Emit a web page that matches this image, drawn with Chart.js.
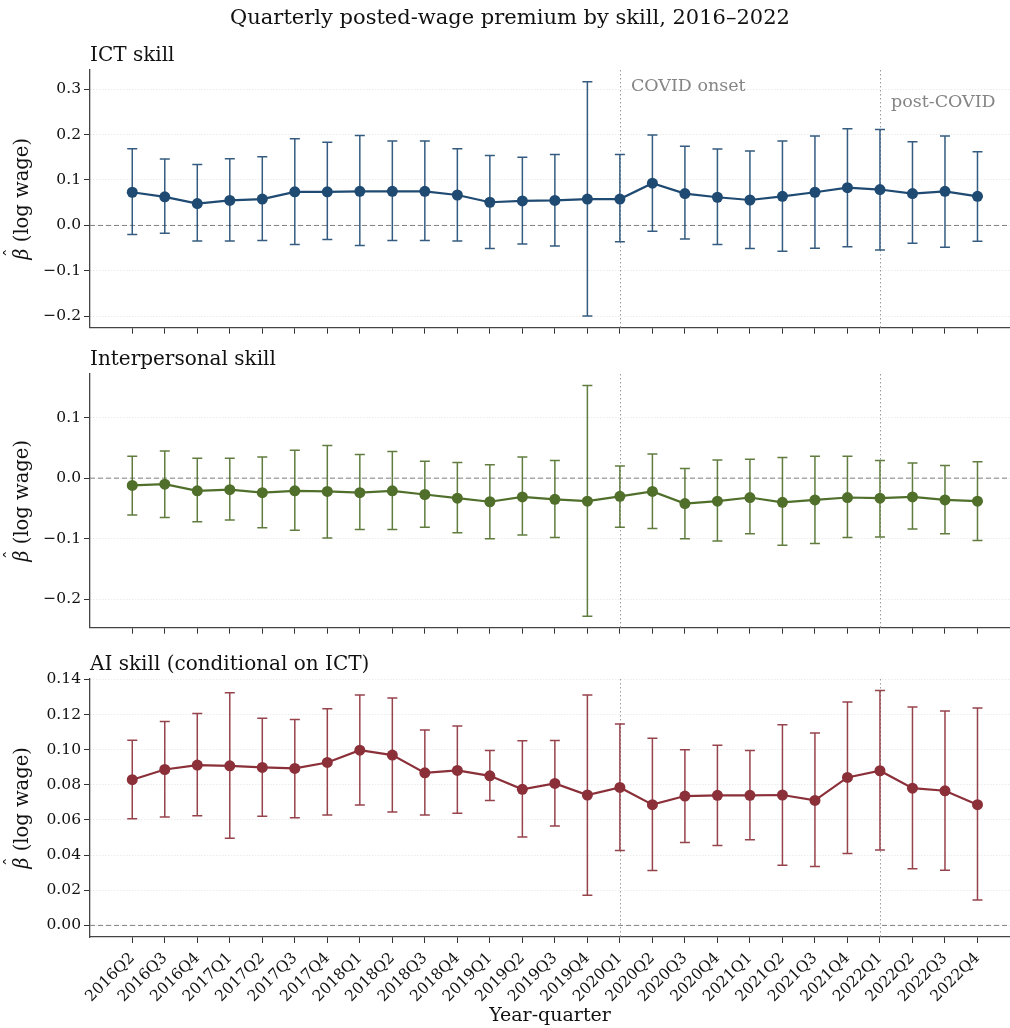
<!DOCTYPE html>
<html>
<head>
<meta charset="utf-8">
<script src="https://cdn.jsdelivr.net/npm/chart.js@4.4.1/dist/chart.umd.min.js"></script>
<style>
  html, body { margin: 0; padding: 0; background: #fff; }
  #wrap { position: relative; width: 1010px; height: 1028px; overflow: hidden; background: #fff; }
  canvas { position: absolute; left: 0; }
</style>
</head>
<body>
<div id="wrap">
  <canvas id="ictChart" width="1010" height="340" style="top:0px"></canvas>
  <canvas id="interChart" width="1010" height="300" style="top:340px"></canvas>
  <canvas id="aiChart" width="1010" height="388" style="top:640px"></canvas>
</div>
<script>
const quarters = ['2016Q2', '2016Q3', '2016Q4', '2017Q1', '2017Q2', '2017Q3', '2017Q4',
  '2018Q1', '2018Q2', '2018Q3', '2018Q4', '2019Q1', '2019Q2', '2019Q3', '2019Q4',
  '2020Q1', '2020Q2', '2020Q3', '2020Q4', '2021Q1', '2021Q2', '2021Q3', '2021Q4',
  '2022Q1', '2022Q2', '2022Q3', '2022Q4'];

const eventQuarters = ['2020Q1', '2022Q1'];
const eventLabels = ['COVID onset', 'post-COVID'];

// ICT skill
const ictCoef = [0.073, 0.063, 0.048, 0.055, 0.058, 0.074, 0.074, 0.075, 0.075, 0.075, 0.067, 0.051, 0.054,
  0.055, 0.058, 0.058, 0.093, 0.070, 0.062, 0.056, 0.064, 0.073, 0.083, 0.079, 0.070, 0.075, 0.064];
const ictHi = [0.169, 0.146, 0.134, 0.147, 0.151, 0.191, 0.183, 0.198, 0.186, 0.186, 0.169, 0.154, 0.150,
  0.156, 0.316, 0.156, 0.199, 0.174, 0.168, 0.164, 0.186, 0.197, 0.213, 0.211, 0.184, 0.197, 0.162];
const ictLo = [-0.020, -0.017, -0.034, -0.034, -0.033, -0.042, -0.031, -0.044, -0.033, -0.033, -0.034, -0.051, -0.041,
  -0.045, -0.199, -0.036, -0.013, -0.030, -0.042, -0.051, -0.057, -0.050, -0.047, -0.054, -0.039, -0.048, -0.035];
const ictTicks = [-0.2, -0.1, 0.0, 0.1, 0.2, 0.3];

// Interpersonal skill
const interCoef = [-0.012, -0.010, -0.021, -0.019, -0.024, -0.021, -0.022, -0.024, -0.021, -0.027, -0.033, -0.039, -0.031,
  -0.035, -0.038, -0.030, -0.022, -0.042, -0.038, -0.032, -0.040, -0.036, -0.032, -0.033, -0.031, -0.036, -0.038];
const interHi = [0.036, 0.045, 0.033, 0.033, 0.035, 0.046, 0.054, 0.039, 0.044, 0.028, 0.026, 0.022, 0.035,
  0.029, 0.153, 0.020, 0.040, 0.016, 0.030, 0.031, 0.034, 0.036, 0.036, 0.029, 0.025, 0.021, 0.027];
const interLo = [-0.061, -0.065, -0.072, -0.069, -0.082, -0.086, -0.099, -0.085, -0.085, -0.081, -0.090, -0.100, -0.094,
  -0.098, -0.228, -0.081, -0.083, -0.100, -0.104, -0.092, -0.111, -0.108, -0.098, -0.097, -0.084, -0.092, -0.103];
const interTicks = [-0.2, -0.1, 0.0, 0.1];

// AI skill (conditional on ICT)
const aiCoef = [0.0829, 0.0887, 0.0912, 0.0908, 0.0899, 0.0893, 0.0927, 0.0997, 0.0969, 0.0868, 0.0882, 0.0851, 0.0774,
  0.0808, 0.0742, 0.0785, 0.0687, 0.0736, 0.0740, 0.0740, 0.0742, 0.0711, 0.0842, 0.0880, 0.0781, 0.0766, 0.0687];
const aiHi = [0.1054, 0.1160, 0.1205, 0.1324, 0.1179, 0.1171, 0.1233, 0.1311, 0.1294, 0.1112, 0.1135, 0.0995, 0.1050,
  0.1052, 0.1311, 0.1146, 0.1065, 0.0999, 0.1025, 0.0995, 0.1141, 0.1095, 0.1271, 0.1336, 0.1243, 0.1220, 0.1237];
const aiLo = [0.0607, 0.0617, 0.0624, 0.0496, 0.0621, 0.0613, 0.0628, 0.0685, 0.0645, 0.0628, 0.0638, 0.0711, 0.0503,
  0.0566, 0.0172, 0.0426, 0.0312, 0.0471, 0.0454, 0.0488, 0.0342, 0.0335, 0.0409, 0.0429, 0.0322, 0.0314, 0.0144];
const aiTicks = [0.00, 0.02, 0.04, 0.06, 0.08, 0.10, 0.12, 0.14];

const SERIF = "'DejaVu Serif', serif";

// zero line, event lines, error bars, titles and notes
const panelExtras = {
  id: 'panelExtras',
  beforeDatasetsDraw(chart, args, opts) {
    const { ctx, chartArea: a, scales: { x, y } } = chart;
    ctx.save();
    ctx.strokeStyle = '#808080';
    ctx.lineWidth = 1;
    ctx.setLineDash([5, 3]);
    const y0 = y.getPixelForValue(0);
    ctx.beginPath();
    ctx.moveTo(a.left, y0);
    ctx.lineTo(a.right, y0);
    ctx.stroke();

    ctx.strokeStyle = '#9a9a9a';
    ctx.setLineDash([1.5, 2.5]);
    eventQuarters.forEach(q => {
      const px = Math.round(x.getPixelForValue(quarters.indexOf(q))) + 0.5;
      ctx.beginPath();
      ctx.moveTo(px, a.top);
      ctx.lineTo(px, a.bottom);
      ctx.stroke();
    });

    ctx.setLineDash([]);
    ctx.strokeStyle = opts.color;
    ctx.globalAlpha = 0.9;
    ctx.lineWidth = 1.5;
    opts.lo.forEach((lo, i) => {
      const px = x.getPixelForValue(i);
      const pLo = y.getPixelForValue(lo);
      const pHi = y.getPixelForValue(opts.hi[i]);
      ctx.beginPath();
      ctx.moveTo(px, pLo);
      ctx.lineTo(px, pHi);
      ctx.moveTo(px - 5, pLo);
      ctx.lineTo(px + 5, pLo);
      ctx.moveTo(px - 5, pHi);
      ctx.lineTo(px + 5, pHi);
      ctx.stroke();
    });
    ctx.restore();
  },
  afterDraw(chart, args, opts) {
    const { ctx, chartArea: a, scales: { x } } = chart;
    ctx.save();
    ctx.fillStyle = '#111';
    ctx.textBaseline = 'middle';
    ctx.textAlign = 'left';
    ctx.font = '20px ' + SERIF;
    ctx.fillText(opts.title, a.left, a.top - 14);
    if (opts.suptitle) {
      ctx.textAlign = 'center';
      ctx.font = '21px ' + SERIF;
      ctx.fillText(opts.suptitle, 510, 19);
    }
    if (opts.notes) {
      ctx.textAlign = 'left';
      ctx.fillStyle = '#858585';
      ctx.font = '17.5px ' + SERIF;
      eventQuarters.forEach((q, k) => {
        const px = x.getPixelForValue(quarters.indexOf(q));
        ctx.fillText(eventLabels[k], px + 11, a.top + 16 + k * 16);
      });
    }

    // y label: italic beta with a hat, then "(log wage)"
    ctx.translate(23, (a.top + a.bottom) / 2);
    ctx.rotate(-Math.PI / 2);
    ctx.fillStyle = '#111';
    ctx.textAlign = 'left';
    ctx.textBaseline = 'middle';
    const fs = 19.5;
    ctx.font = 'italic ' + fs + 'px ' + SERIF;
    const wB = ctx.measureText('\u03b2').width;
    ctx.font = fs + 'px ' + SERIF;
    const rest = ' (log wage)';
    const wR = ctx.measureText(rest).width;
    const x0 = -(wB + wR) / 2;
    ctx.font = 'italic ' + fs + 'px ' + SERIF;
    ctx.fillText('\u03b2', x0, 0);
    ctx.font = fs + 'px ' + SERIF;
    ctx.fillText(rest, x0 + wB, 0);
    ctx.textAlign = 'center';
    ctx.font = '17px ' + SERIF;
    ctx.fillText('\u02c6', x0 + wB * 0.62, -11);
    ctx.restore();
  }
};

function fmt(v, d) {
  const s = Math.abs(v).toFixed(d);
  return v < -1e-9 ? '\u2212' + s : s;
}

function makePanel(id, p) {
  const ctx = document.getElementById(id).getContext('2d');
  return new Chart(ctx, {
    type: 'line',
    data: {
      datasets: [{
        data: p.coef.map((v, i) => ({ x: i, y: v })),
        borderColor: p.color,
        backgroundColor: p.color,
        borderWidth: 2.2,
        pointRadius: 5.5,
        pointHoverRadius: 5.5,
        pointBorderWidth: 0,
        tension: 0
      }]
    },
    options: {
      responsive: false,
      animation: false,
      devicePixelRatio: 1,
      layout: { autoPadding: false, padding: { top: p.padTop, left: 0, right: 0, bottom: 0 } },
      plugins: {
        legend: { display: false },
        tooltip: { enabled: false },
        panelExtras: { color: p.color, lo: p.lo, hi: p.hi, title: p.title, suptitle: p.suptitle, notes: p.notes }
      },
      scales: {
        x: {
          type: 'linear',
          min: -1.3,
          max: 27.0,
          afterBuildTicks: axis => { axis.ticks = quarters.map((q, i) => ({ value: i })); },
          afterFit: s => { s.height = p.xHeight; },
          grid: { drawOnChartArea: false, tickLength: 6, tickColor: '#333', tickWidth: 1 },
          border: { color: '#444', width: 1.3 },
          ticks: {
            display: p.showX,
            autoSkip: false,
            minRotation: 45,
            maxRotation: 45,
            padding: 6,
            color: '#111',
            font: { family: SERIF, size: 15.5 },
            callback: v => quarters[v]
          },
          title: {
            display: p.showX,
            text: 'Year-quarter',
            color: '#111',
            font: { family: SERIF, size: 19 },
            padding: { top: 0, bottom: 1 }
          }
        },
        y: {
          min: p.yMin,
          max: p.yMax,
          afterBuildTicks: axis => { axis.ticks = p.ticks.map(v => ({ value: v })); },
          afterFit: s => { s.width = 90; },
          grid: { color: '#e3e3e3', lineWidth: 1, tickLength: 6, tickColor: '#333', tickWidth: 1 },
          border: { color: '#444', width: 1.3, dash: [1, 2] },
          ticks: {
            padding: 3,
            color: '#111',
            font: { family: SERIF, size: 15.5 },
            callback: v => fmt(v, p.decimals)
          },
          title: { display: false }
        }
      }
    },
    plugins: [panelExtras]
  });
}

makePanel('ictChart', {
  coef: ictCoef, lo: ictLo, hi: ictHi, color: '#1f4a72', title: 'ICT skill',
  suptitle: 'Quarterly posted-wage premium by skill, 2016\u20132022', notes: true,
  yMin: -0.225, yMax: 0.342, ticks: ictTicks, decimals: 1, padTop: 70, xHeight: 12, showX: false
});
makePanel('interChart', {
  coef: interCoef, lo: interLo, hi: interHi, color: '#4f6f2a', title: 'Interpersonal skill',
  yMin: -0.247, yMax: 0.172, ticks: interTicks, decimals: 1, padTop: 34, xHeight: 7, showX: false
});
makePanel('aiChart', {
  coef: aiCoef, lo: aiLo, hi: aiHi, color: '#8b2f39', title: 'AI skill (conditional on ICT)',
  yMin: -0.0066, yMax: 0.1402, ticks: aiTicks, decimals: 2, padTop: 39, xHeight: 91, showX: true
});
</script>
</body>
</html>
